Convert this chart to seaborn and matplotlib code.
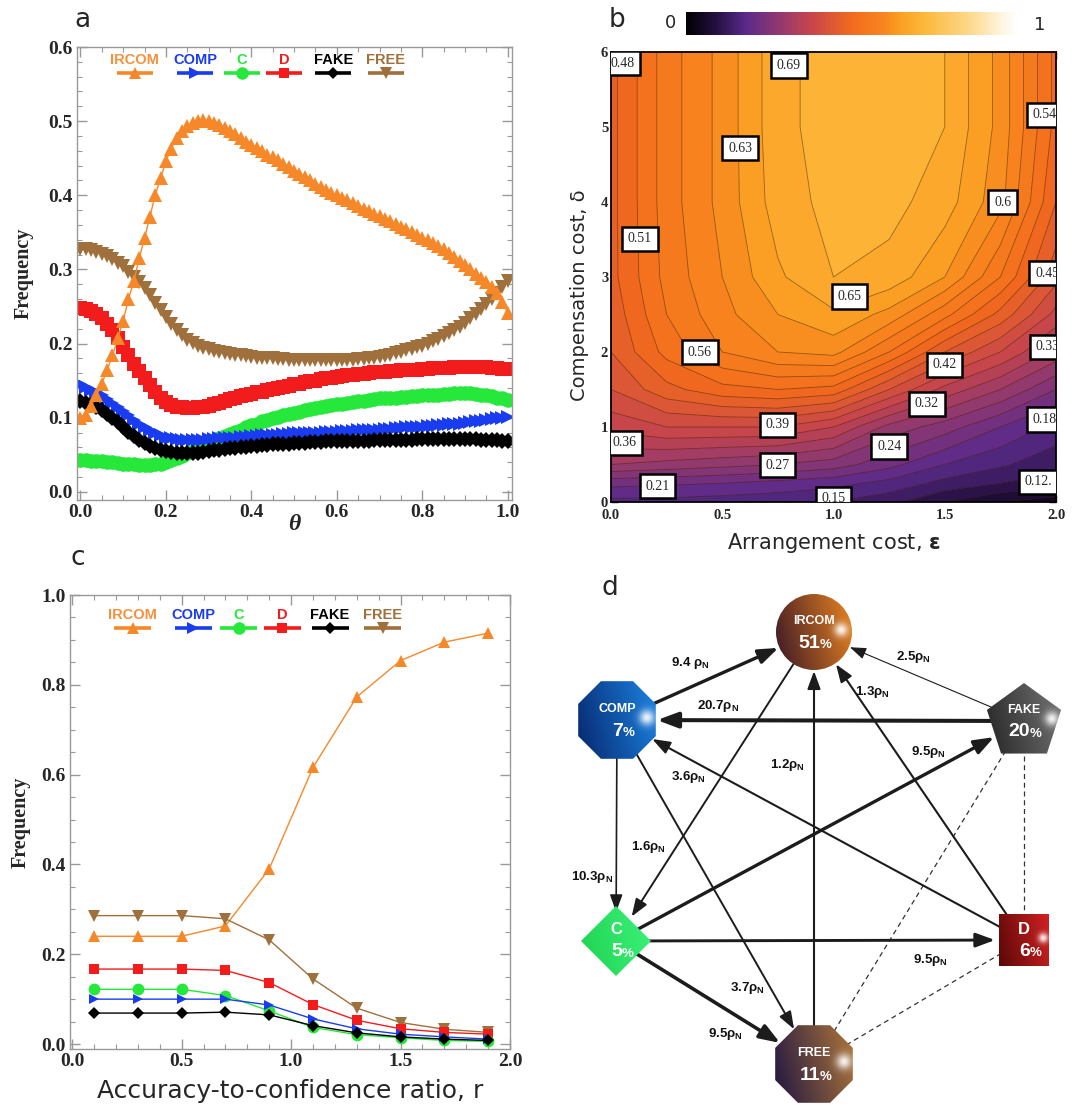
import numpy as np
import matplotlib
matplotlib.use("Agg")
import matplotlib.pyplot as plt
import seaborn as sns
from matplotlib.colors import LinearSegmentedColormap, Normalize, to_rgb
from matplotlib.ticker import MultipleLocator
from matplotlib.patches import Circle, RegularPolygon, Rectangle
from matplotlib.cm import ScalarMappable

W, H = 1073, 1107
SERIF = ["Liberation Serif", "DejaVu Serif"]
SANS = ["Liberation Sans", "DejaVu Sans"]
LABEL_SANS = ["DejaVu Sans"]

STRATEGIES = ["IRCOM", "COMP", "C", "D", "FAKE", "FREE"]
COLORS = {"IRCOM": "#f7882a", "COMP": "#1a3cf0", "C": "#25e83a",
          "D": "#f21c1c", "FAKE": "#000000", "FREE": "#a0703c"}
MARKERS = {"IRCOM": "^", "COMP": ">", "C": "o", "D": "s", "FAKE": "D", "FREE": "v"}

# ---- panel a: frequency vs theta (81 samples, step 0.0125) ----
theta = np.linspace(0, 1, 81)
freq_a_ircom = [0.100, 0.104, 0.116, 0.130, 0.146, 0.164, 0.184, 0.207, 0.231, 0.260,
                0.284, 0.315, 0.342, 0.371, 0.400, 0.423, 0.446, 0.463, 0.477, 0.487,
                0.494, 0.498, 0.500, 0.501, 0.500, 0.498, 0.495, 0.491, 0.487, 0.482,
                0.477, 0.472, 0.468, 0.464, 0.460, 0.455, 0.451, 0.447, 0.442, 0.438,
                0.433, 0.429, 0.424, 0.420, 0.415, 0.411, 0.407, 0.403, 0.400, 0.396,
                0.393, 0.389, 0.386, 0.382, 0.379, 0.375, 0.372, 0.368, 0.365, 0.361,
                0.357, 0.354, 0.350, 0.347, 0.343, 0.340, 0.336, 0.332, 0.327, 0.322,
                0.317, 0.312, 0.306, 0.300, 0.294, 0.289, 0.283, 0.276, 0.268, 0.256,
                0.241]
freq_a_comp = [0.145, 0.142, 0.138, 0.134, 0.130, 0.125, 0.120, 0.115, 0.109, 0.103,
               0.097, 0.092, 0.087, 0.083, 0.079, 0.076, 0.073, 0.072, 0.071, 0.070,
               0.070, 0.070, 0.070, 0.070, 0.071, 0.071, 0.072, 0.072, 0.073, 0.073,
               0.074, 0.074, 0.075, 0.075, 0.076, 0.076, 0.077, 0.077, 0.078, 0.078,
               0.079, 0.079, 0.079, 0.080, 0.080, 0.080, 0.081, 0.081, 0.081, 0.082,
               0.082, 0.082, 0.083, 0.083, 0.083, 0.084, 0.084, 0.085, 0.085, 0.086,
               0.086, 0.087, 0.087, 0.088, 0.088, 0.089, 0.089, 0.090, 0.090, 0.091,
               0.091, 0.092, 0.093, 0.094, 0.095, 0.096, 0.097, 0.098, 0.099, 0.100,
               0.101]
freq_a_c = [0.043, 0.043, 0.042, 0.042, 0.041, 0.040, 0.040, 0.039, 0.038, 0.038,
            0.037, 0.036, 0.036, 0.036, 0.037, 0.038, 0.040, 0.043, 0.046, 0.049,
            0.052, 0.055, 0.058, 0.062, 0.065, 0.069, 0.072, 0.075, 0.078, 0.081,
            0.084, 0.087, 0.090, 0.092, 0.095, 0.097, 0.099, 0.101, 0.103, 0.105,
            0.107, 0.108, 0.110, 0.112, 0.113, 0.115, 0.116, 0.117, 0.118, 0.119,
            0.120, 0.121, 0.122, 0.123, 0.124, 0.125, 0.126, 0.126, 0.127, 0.127,
            0.128, 0.128, 0.129, 0.129, 0.130, 0.130, 0.131, 0.131, 0.132, 0.132,
            0.133, 0.133, 0.133, 0.133, 0.132, 0.131, 0.130, 0.129, 0.127, 0.126,
            0.124]
freq_a_d = [0.248, 0.247, 0.244, 0.240, 0.234, 0.227, 0.218, 0.208, 0.196, 0.185,
            0.173, 0.163, 0.153, 0.144, 0.135, 0.127, 0.121, 0.117, 0.115, 0.114,
            0.113, 0.113, 0.114, 0.115, 0.116, 0.118, 0.120, 0.122, 0.125, 0.127,
            0.129, 0.131, 0.132, 0.134, 0.135, 0.137, 0.139, 0.140, 0.142, 0.143,
            0.145, 0.146, 0.148, 0.149, 0.150, 0.152, 0.153, 0.154, 0.155, 0.156,
            0.157, 0.158, 0.159, 0.159, 0.160, 0.161, 0.162, 0.162, 0.163, 0.163,
            0.164, 0.164, 0.165, 0.165, 0.166, 0.166, 0.167, 0.167, 0.167, 0.167,
            0.168, 0.168, 0.168, 0.168, 0.168, 0.168, 0.168, 0.167, 0.167, 0.166,
            0.166]
freq_a_fake = [0.122, 0.120, 0.117, 0.114, 0.110, 0.105, 0.099, 0.094, 0.088, 0.081,
               0.075, 0.070, 0.066, 0.062, 0.059, 0.057, 0.055, 0.054, 0.053, 0.052,
               0.052, 0.052, 0.053, 0.054, 0.055, 0.056, 0.057, 0.058, 0.059, 0.059,
               0.060, 0.061, 0.062, 0.062, 0.063, 0.063, 0.064, 0.064, 0.065, 0.065,
               0.066, 0.066, 0.066, 0.067, 0.067, 0.067, 0.068, 0.068, 0.068, 0.068,
               0.069, 0.069, 0.069, 0.069, 0.069, 0.070, 0.070, 0.070, 0.070, 0.070,
               0.070, 0.070, 0.070, 0.071, 0.071, 0.071, 0.071, 0.071, 0.071, 0.071,
               0.071, 0.071, 0.071, 0.071, 0.071, 0.070, 0.070, 0.070, 0.070, 0.069,
               0.069]
freq_a_free = [0.328, 0.327, 0.326, 0.324, 0.321, 0.318, 0.314, 0.309, 0.304, 0.297,
               0.290, 0.283, 0.275, 0.265, 0.255, 0.245, 0.236, 0.227, 0.218, 0.211,
               0.205, 0.201, 0.197, 0.194, 0.192, 0.190, 0.189, 0.187, 0.186, 0.185,
               0.184, 0.183, 0.182, 0.181, 0.181, 0.180, 0.180, 0.179, 0.179, 0.178,
               0.178, 0.178, 0.178, 0.178, 0.178, 0.178, 0.178, 0.178, 0.178, 0.178,
               0.178, 0.178, 0.179, 0.179, 0.180, 0.181, 0.182, 0.183, 0.185, 0.187,
               0.189, 0.191, 0.193, 0.195, 0.197, 0.200, 0.203, 0.206, 0.210, 0.214,
               0.218, 0.223, 0.228, 0.234, 0.240, 0.246, 0.253, 0.260, 0.268, 0.276,
               0.285]

# ---- panel c: frequency vs accuracy-to-confidence ratio ----
ratio_r = [0.1, 0.3, 0.5, 0.7, 0.9, 1.1, 1.3, 1.5, 1.7, 1.9]
freq_c_ircom = [0.240, 0.240, 0.240, 0.263, 0.390, 0.616, 0.773, 0.854, 0.895, 0.915]
freq_c_comp = [0.100, 0.100, 0.100, 0.100, 0.087, 0.056, 0.034, 0.022, 0.016, 0.011]
freq_c_c = [0.122, 0.122, 0.122, 0.108, 0.074, 0.037, 0.021, 0.014, 0.008, 0.006]
freq_c_d = [0.167, 0.167, 0.167, 0.164, 0.137, 0.088, 0.053, 0.034, 0.026, 0.022]
freq_c_fake = [0.069, 0.069, 0.069, 0.071, 0.065, 0.041, 0.025, 0.016, 0.011, 0.008]
freq_c_free = [0.286, 0.286, 0.286, 0.279, 0.232, 0.145, 0.080, 0.048, 0.033, 0.026]

# ---- panel b: IRCOM frequency over (epsilon, delta) ----
eps_grid = [0.0, 0.25, 0.5, 0.75, 1.0, 1.25, 1.5, 1.75, 2.0]
delta_grid = [0.0, 0.25, 0.5, 1.0, 1.5, 2.0, 2.5, 3.0, 4.0, 5.0, 6.0]
cost_freq = [
    [0.17, 0.17, 0.165, 0.16, 0.15, 0.13, 0.09, 0.06, 0.04],
    [0.22, 0.215, 0.21, 0.20, 0.19, 0.17, 0.14, 0.12, 0.11],
    [0.30, 0.29, 0.28, 0.27, 0.255, 0.22, 0.18, 0.155, 0.13],
    [0.37, 0.39, 0.39, 0.39, 0.36, 0.29, 0.255, 0.21, 0.17],
    [0.42, 0.47, 0.50, 0.51, 0.50, 0.42, 0.35, 0.30, 0.24],
    [0.45, 0.52, 0.57, 0.60, 0.61, 0.54, 0.45, 0.39, 0.32],
    [0.46, 0.54, 0.59, 0.63, 0.655, 0.62, 0.55, 0.47, 0.38],
    [0.47, 0.55, 0.60, 0.655, 0.69, 0.68, 0.63, 0.54, 0.43],
    [0.47, 0.555, 0.61, 0.675, 0.70, 0.70, 0.675, 0.61, 0.48],
    [0.47, 0.555, 0.61, 0.68, 0.705, 0.705, 0.69, 0.62, 0.50],
    [0.47, 0.555, 0.61, 0.68, 0.705, 0.705, 0.69, 0.62, 0.50],
]
contour_text = ["0.48", "0.69", "0.54", "0.63", "0.6", "0.51", "0.45", "0.65", "0.33", "0.56",
                "0.42", "0.32", "0.39", "0.36", "0.24", "0.27", "0.21", "0.15", "0.18", "0.12."]
contour_eps = [0.05, 0.80, 1.95, 0.58, 1.76, 0.13, 1.96, 1.07, 1.96, 0.40,
               1.50, 1.42, 0.75, 0.06, 1.25, 0.75, 0.21, 1.00, 1.95, 1.92]
contour_delta = [5.85, 5.82, 5.16, 4.72, 4.00, 3.51, 3.05, 2.74, 2.07, 2.00,
                 1.83, 1.31, 1.03, 0.79, 0.74, 0.49, 0.21, 0.04, 1.10, 0.27]

# ---- panel d: transition network ----
node_names = ["IRCOM", "COMP", "FAKE", "C", "D", "FREE"]
node_share = [51, 7, 20, 5, 6, 11]
edge_src = ["COMP", "FAKE", "FAKE", "D", "FREE", "C", "D", "IRCOM", "COMP", "COMP", "C", "C"]
edge_dst = ["IRCOM", "IRCOM", "COMP", "IRCOM", "IRCOM", "FAKE", "COMP", "C", "C", "FREE", "D", "FREE"]
edge_rate = ["9.4 ", "2.5", "20.7", "1.3", "1.2", "9.5", "3.6", "1.6", "10.3", "3.7", "9.5", "9.5"]
neutral_links = [("FAKE", "FREE"), ("FAKE", "D"), ("D", "FREE")]

# layout of the diagram, in figure pixels
NODE_XY = {"IRCOM": (814, 632), "COMP": (617, 720), "FAKE": (1024, 721),
           "C": (616, 941), "D": (1024, 940), "FREE": (814, 1064)}
NODE_SIZE = {"IRCOM": 38, "COMP": 42, "FAKE": 39, "C": 35, "D": 26, "FREE": 42}
NODE_END = {"IRCOM": 39, "COMP": 40, "FAKE": 34, "C": 29, "D": 29, "FREE": 40}
NODE_TONES = {"IRCOM": ("#3a1726", "#ea8420", True), "COMP": ("#06246a", "#1c86e6", True),
              "FAKE": ("#222222", "#777777", True), "C": ("#1fd350", "#3cf27a", False),
              "D": ("#560707", "#d82222", True), "FREE": ("#1a1242", "#b47a3a", True)}
EDGE_LW = [2.4, 0.8, 2.9, 1.5, 1.5, 2.4, 1.5, 1.4, 1.2, 1.4, 2.1, 2.6]
EDGE_LABEL_XY = [(690, 663), (913, 657), (718, 706), (872, 692), (787, 765), (928, 752),
                 (688, 777), (648, 847), (592, 877), (747, 988), (930, 960), (725, 1034)]

SUNSET = LinearSegmentedColormap.from_list("sunset", [
    (0.0, "#000000"), (0.09, "#241040"), (0.18, "#5a2a8a"), (0.29, "#963a6c"),
    (0.38, "#c8464a"), (0.5, "#f26a1e"), (0.6, "#f8861e"), (0.65, "#faa024"),
    (0.72, "#fcb83a"), (0.86, "#fdd98c"), (0.95, "#fff3da"), (1.0, "#ffffff")])


def px_rect(l, t, r, b):
    return [l / W, 1 - b / H, (r - l) / W, (b - t) / H]


def style_axes(ax, xticks, yticks, xfmt, yfmt, xminor, yminor, edge, size):
    ax.set_xticks(xticks)
    ax.set_yticks(yticks)
    ax.set_xticklabels([xfmt.format(v) for v in xticks], fontweight="bold", fontsize=size, family=SERIF)
    ax.set_yticklabels([yfmt.format(v) for v in yticks], fontweight="bold", fontsize=size, family=SERIF)
    ax.xaxis.set_minor_locator(MultipleLocator(xminor))
    ax.yaxis.set_minor_locator(MultipleLocator(yminor))
    ax.tick_params(which="both", direction="in", top=True, right=True, color=edge, pad=3)
    ax.tick_params(which="major", length=7, width=1)
    ax.tick_params(which="minor", length=3.5, width=0.8)
    for s in ax.spines.values():
        s.set_visible(True)
        s.set_color(edge)
        s.set_linewidth(1.0)


def draw_key(ax, xs, y_text, y_line, sizes):
    for name, xc in zip(STRATEGIES, xs):
        ax.text(xc, y_text, name, transform=ax.transAxes, ha="center", va="center",
                color=COLORS[name] if name != "IRCOM" else "#f5903c",
                fontsize=10.5, fontweight="bold", family=SANS)
        ax.plot([xc - 0.042, xc + 0.042], [y_line, y_line], transform=ax.transAxes,
                color=COLORS[name], lw=2.6, solid_capstyle="butt", clip_on=False)
        ax.plot([xc], [y_line], transform=ax.transAxes, marker=MARKERS[name],
                ms=sizes[name], color=COLORS[name], mew=0, clip_on=False)


def panel_a(fig):
    ax = fig.add_axes(px_rect(77, 47, 512, 500))
    series = [freq_a_ircom, freq_a_comp, freq_a_c, freq_a_d, freq_a_fake, freq_a_free]
    sizes = {"IRCOM": 10.5, "COMP": 10, "C": 10.5, "D": 9.5, "FAKE": 8.5, "FREE": 10.5}
    for i in [2, 1, 4, 3, 5, 0]:
        name = STRATEGIES[i]
        sns.lineplot(x=theta, y=series[i], ax=ax, color=COLORS[name], marker=MARKERS[name],
                     markersize=sizes[name], markeredgewidth=0, linewidth=1, legend=False)
    ax.set_xlim(-0.008, 1.01)
    ax.set_ylim(-0.011, 0.6)
    style_axes(ax, [0, 0.2, 0.4, 0.6, 0.8, 1.0], [0, 0.1, 0.2, 0.3, 0.4, 0.5, 0.6],
               "{:.1f}", "{:.1f}", 0.05, 0.02, "#999999", 14)
    ax.set_ylabel("Frequency", fontsize=14.5, fontweight="bold", family=SERIF)
    ax.yaxis.set_label_coords(-0.10, 0.5)
    ax.set_xlabel("θ", fontsize=17, fontweight="bold", fontstyle="italic", family=SERIF)
    ax.xaxis.set_label_coords(0.5, -0.03)
    draw_key(ax, [0.133, 0.271, 0.379, 0.476, 0.589, 0.710], 0.971, 0.943,
             {"IRCOM": 9, "COMP": 8.5, "C": 9, "D": 7.5, "FAKE": 6.5, "FREE": 9})


def panel_c(fig):
    ax = fig.add_axes(px_rect(70, 595, 510, 1049))
    series = [freq_c_ircom, freq_c_comp, freq_c_c, freq_c_d, freq_c_fake, freq_c_free]
    sizes = {"IRCOM": 8.5, "COMP": 7.5, "C": 8.5, "D": 7.5, "FAKE": 6, "FREE": 8.5}
    for i in [0, 5, 3, 2, 1, 4]:
        name = STRATEGIES[i]
        sns.lineplot(x=ratio_r, y=series[i], ax=ax, color=COLORS[name], marker=MARKERS[name],
                     markersize=sizes[name], markeredgewidth=0, linewidth=1, legend=False)
    ax.set_xlim(-0.01, 2.0)
    ax.set_ylim(-0.011, 1.0)
    style_axes(ax, [0, 0.5, 1.0, 1.5, 2.0], [0, 0.2, 0.4, 0.6, 0.8, 1.0],
               "{:.1f}", "{:.1f}", 0.1, 0.05, "#999999", 14)
    ax.set_ylabel("Frequency", fontsize=14.5, fontweight="bold", family=SERIF)
    ax.yaxis.set_label_coords(-0.09, 0.5)
    ax.set_xlabel("Accuracy-to-confidence ratio, r", fontsize=18, family=LABEL_SANS)
    ax.xaxis.set_label_coords(0.5, -0.065)
    draw_key(ax, [0.143, 0.28, 0.384, 0.482, 0.591, 0.711], 0.956, 0.927,
             {"IRCOM": 9, "COMP": 8.5, "C": 9, "D": 7.5, "FAKE": 6.5, "FREE": 9})


def panel_b(fig):
    ax = fig.add_axes(px_rect(611, 52, 1056, 502))
    norm = Normalize(0, 1)
    levels = np.arange(0, 0.75, 0.03)
    ax.contourf(eps_grid, delta_grid, cost_freq, levels=levels, cmap=SUNSET, norm=norm)
    ax.contour(eps_grid, delta_grid, cost_freq, levels=levels, colors="#3a1a00",
               linewidths=0.6, alpha=0.5)
    for s, e, d in zip(contour_text, contour_eps, contour_delta):
        ax.text(e, d, s, ha="center", va="center", fontsize=10, family=SERIF, zorder=5,
                clip_on=True, bbox=dict(boxstyle="square,pad=0.4", fc="white", ec="black", lw=1.8))
    ax.set_xlim(0, 2)
    ax.set_ylim(0, 6)
    style_axes(ax, [0, 0.5, 1.0, 1.5, 2.0], [0, 1, 2, 3, 4, 5, 6],
               "{:.1f}", "{:d}", 0.1, 0.2, "black", 10.5)
    ax.tick_params(which="both", color="black", pad=2)
    ax.tick_params(axis="x", pad=5)
    ax.tick_params(which="major", length=5)
    ax.tick_params(which="minor", length=3)
    for s in ax.spines.values():
        s.set_linewidth(1.3)
    ax.set_xlabel("Arrangement cost, $\\mathbf{\\epsilon}$", fontsize=15, family=LABEL_SANS)
    ax.xaxis.set_label_coords(0.5, -0.065)
    ax.set_ylabel("Compensation cost, δ", fontsize=14, family=LABEL_SANS)
    ax.yaxis.set_label_coords(-0.05, 0.46)

    cax = fig.add_axes(px_rect(686, 12, 1017, 35))
    cb = fig.colorbar(ScalarMappable(norm=norm, cmap=SUNSET), cax=cax, orientation="horizontal")
    cb.set_ticks([])
    cb.outline.set_visible(False)
    fig.text(670 / W, 1 - 23 / H, "0", ha="center", va="center", fontsize=13, family=LABEL_SANS)
    fig.text(1040 / W, 1 - 25 / H, "1", ha="center", va="center", fontsize=13, family=LABEL_SANS)


def node_image(c_dark, c_light, glow):
    n = 160
    X, Y = np.meshgrid(np.linspace(0, 1, n), np.linspace(0, 1, n))
    t = np.clip(0.8 * X + 0.2 * (1 - Y), 0, 1)[..., None]
    rgb = np.array(to_rgb(c_dark)) * (1 - t) + np.array(to_rgb(c_light)) * t
    if glow:
        g = np.exp(-((X - 0.86) ** 2 + (Y - 0.47) ** 2) / (2 * 0.065 ** 2))[..., None]
        rgb = rgb * (1 - 0.9 * g) + 0.9 * g
    return np.dstack([rgb, np.ones((n, n))])


def node_patch(name, cx, cy, r):
    if name == "IRCOM":
        return Circle((cx, cy), r)
    if name in ("COMP", "FREE"):
        return RegularPolygon((cx, cy), 8, radius=r, orientation=np.pi / 8)
    if name == "FAKE":
        return RegularPolygon((cx, cy + 1), 5, radius=r, orientation=np.pi)
    if name == "C":
        return RegularPolygon((cx, cy), 4, radius=r)
    return Rectangle((cx - 25, cy - 26.5), 50, 53)


def panel_d(fig):
    ax = fig.add_axes(px_rect(540, 570, 1073, 1107))
    for a, b in neutral_links:
        (x0, y0), (x1, y1) = NODE_XY[a], NODE_XY[b]
        ax.plot([x0, x1], [y0, y1], ls=(0, (4, 3)), lw=0.9, color="#333333", zorder=1)

    for i, (s, t) in enumerate(zip(edge_src, edge_dst)):
        p0, p1 = np.array(NODE_XY[s], float), np.array(NODE_XY[t], float)
        u = (p1 - p0) / np.linalg.norm(p1 - p0)
        a, b = p0 + u * (NODE_END[s] - 4), p1 - u * NODE_END[t]
        lw = EDGE_LW[i]
        hl, hw = 0.9 + 0.12 * lw, 0.32 + 0.05 * lw
        ax.annotate("", xy=b, xytext=a, zorder=2,
                    arrowprops=dict(arrowstyle=f"-|>,head_length={hl},head_width={hw}",
                                    lw=lw, color="#1c1c1c", shrinkA=0, shrinkB=0,
                                    mutation_scale=10))
        lx, ly = EDGE_LABEL_XY[i]
        ax.text(lx, ly, f"{edge_rate[i]}ρ$_\\mathregular{{N}}$", ha="center", va="center",
                fontsize=9.5, fontweight="bold", family=SANS, color="#111111", zorder=6)

    for name, share in zip(node_names, node_share):
        cx, cy = NODE_XY[name]
        r = NODE_SIZE[name]
        patch = node_patch(name, cx, cy, r)
        patch.set_facecolor("none")
        patch.set_edgecolor("none")
        ax.add_patch(patch)
        dark, light, glow = NODE_TONES[name]
        ext = r if name != "D" else 27
        im = ax.imshow(node_image(dark, light, glow), extent=(cx - ext, cx + ext, cy + ext, cy - ext),
                       aspect="auto", zorder=4, interpolation="bilinear")
        im.set_clip_path(patch)
        big = name in ("C", "D")
        ax.text(cx, cy - 11, name, ha="center", va="center", color="white", fontweight="bold",
                fontsize=12 if big else 9, family=SANS, zorder=7)
        ax.text(cx + 6, cy + 11, str(share), ha="right", va="center", color="white",
                fontweight="bold", fontsize=14, family=SANS, zorder=7)
        ax.text(cx + 6, cy + 13, "%", ha="left", va="center", color="white",
                fontweight="bold", fontsize=9.5, family=SANS, zorder=7)

    ax.set_xlim(540, 1073)
    ax.set_ylim(1107, 570)
    ax.axis("off")


def main():
    sns.set_theme(style="ticks")
    plt.rcParams["font.family"] = SERIF
    plt.rcParams["mathtext.fontset"] = "dejavusans"
    fig = plt.figure(figsize=(W / 100, H / 100), dpi=100)

    panel_a(fig)
    panel_b(fig)
    panel_c(fig)
    panel_d(fig)

    for lab, x, y in [("a", 82, 20), ("b", 617, 20), ("c", 78, 558), ("d", 610, 588)]:
        fig.text(x / W, 1 - y / H, lab, ha="center", va="center", fontsize=19, family=LABEL_SANS)

    fig.savefig("out.png", dpi=100)
    plt.close(fig)


if __name__ == "__main__":
    main()
